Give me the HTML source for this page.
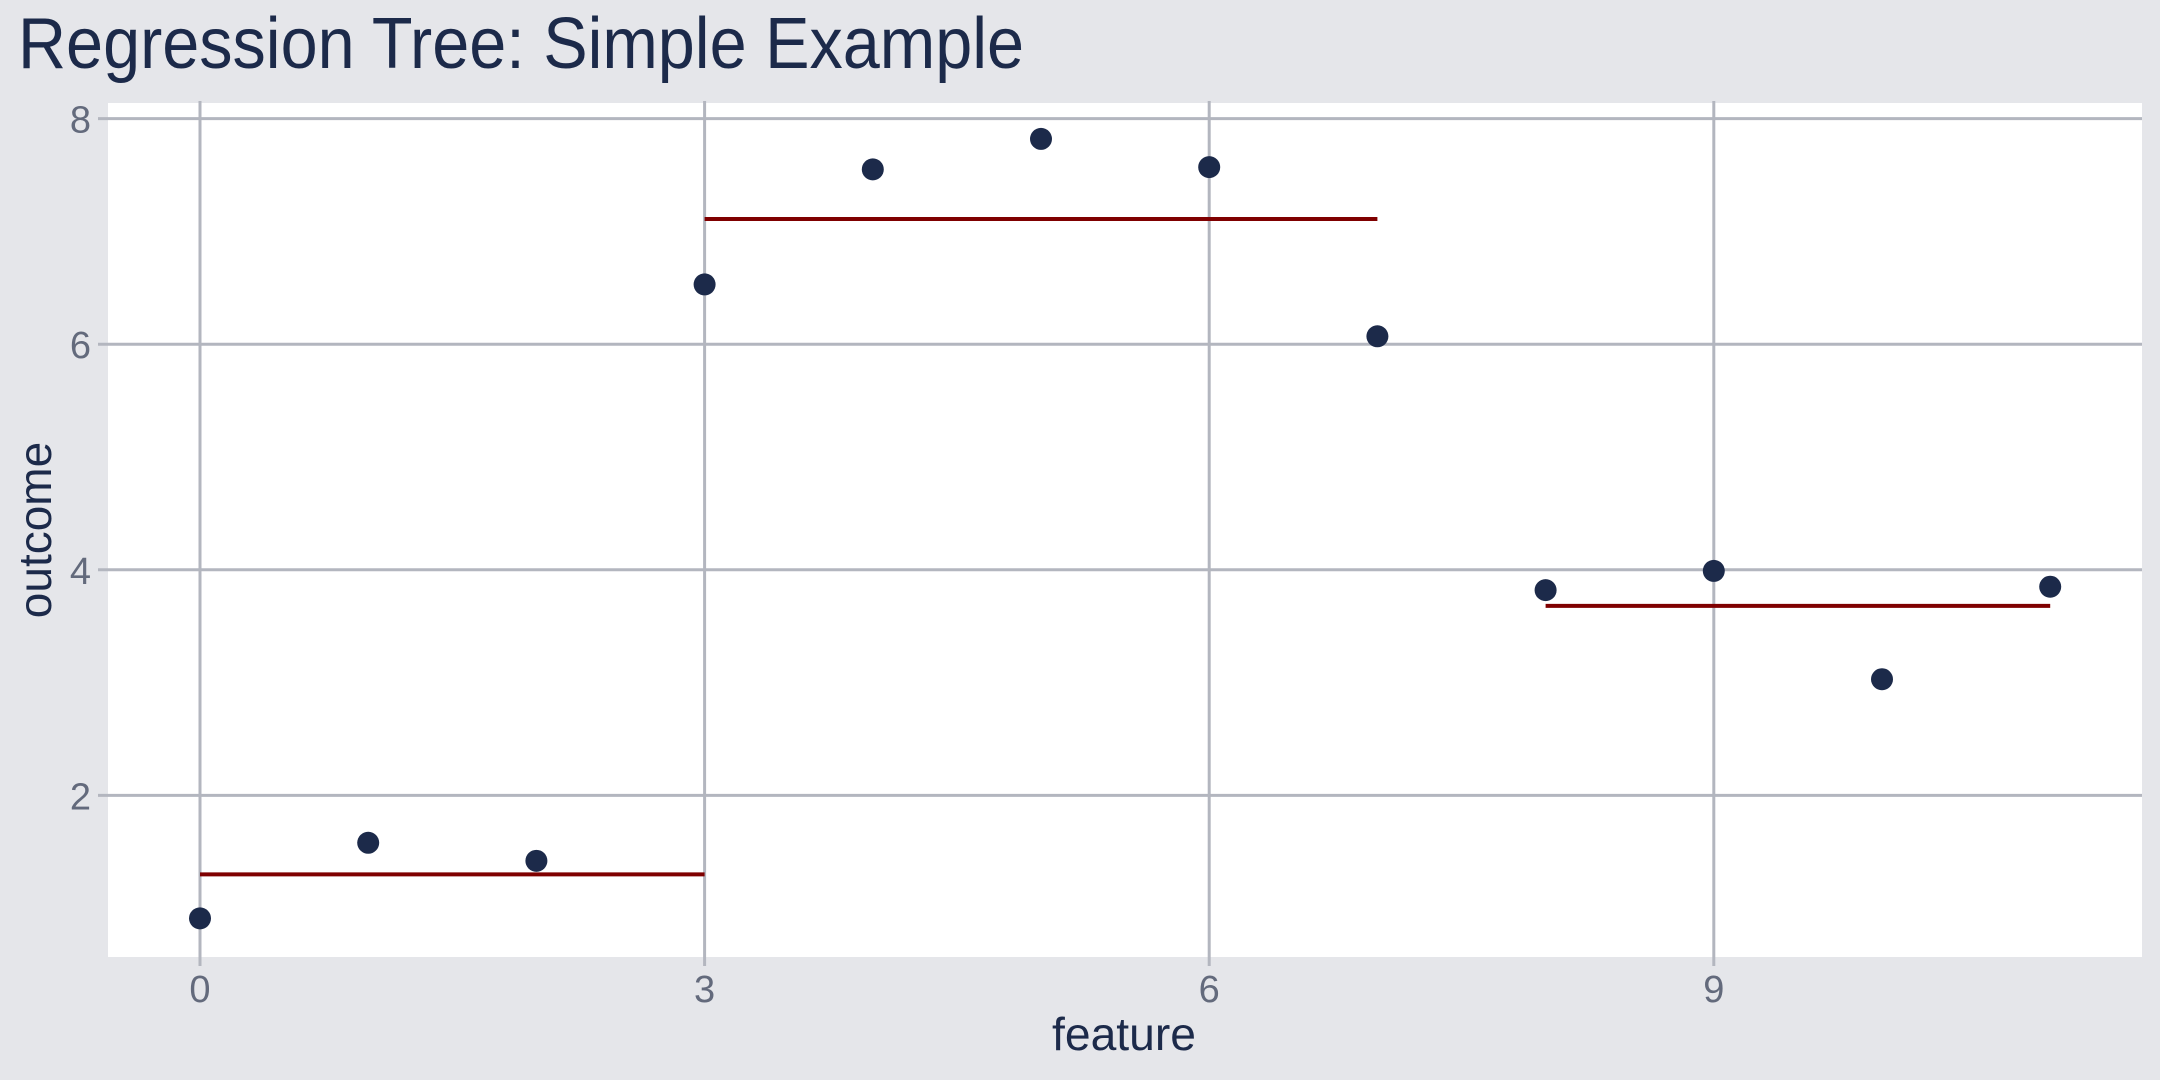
<!DOCTYPE html>
<html><head><meta charset="utf-8"><style>
html,body{margin:0;padding:0;background:#e5e6ea;}
svg{display:block;font-family:"Liberation Sans",sans-serif;}
</style></head><body>
<svg id="chart" width="2160" height="1080" viewBox="0 0 2160 1080">
<rect x="0" y="0" width="2160" height="1080" fill="#e5e6ea"/>
<text x="18" y="68" font-size="72" fill="#1c2a4a" textLength="1006" lengthAdjust="spacingAndGlyphs">Regression Tree: Simple Example</text>
<rect x="108" y="103" width="2034" height="854" fill="#ffffff"/>
<g id="grid"></g>
<g id="segs"></g>
<g id="pts"></g>
<g id="ticks"></g>
<text x="1124" y="1050" font-size="46" fill="#1c2a4a" text-anchor="middle" textLength="144" lengthAdjust="spacingAndGlyphs">feature</text>
<text x="0" y="0" font-size="46" fill="#1c2a4a" text-anchor="middle" transform="translate(51,530) rotate(-90)">outcome</text>
</svg>
<script>
const featureValues = [0,1,2,3,4,5,6,7,8,9,10,11];
const outcomeValues = [0.91,1.58,1.42,6.53,7.55,7.82,7.57,6.07,3.82,3.99,3.03,3.85];
const segStarts = [0,3,8];
const segEnds = [3,7,11];
const segValues = [1.30,7.11,3.68];
const xTicks = [0,3,6,9];
const yTicks = [2,4,6,8];

const NS="http://www.w3.org/2000/svg";
const xs = v => 200 + 168.2*v;
const ys = v => 1021 - 112.8*v;
function mk(tag, attrs, parent){const e=document.createElementNS(NS,tag);for(const k in attrs)e.setAttribute(k,attrs[k]);parent.appendChild(e);return e;}
const grid=document.getElementById('grid'), segs=document.getElementById('segs'), pts=document.getElementById('pts'), ticks=document.getElementById('ticks');
yTicks.forEach(t=>{
  const l=mk('line',{x1:98,x2:2142,y1:ys(t),y2:ys(t),stroke:'#b3b6bf','stroke-width':3},grid);
  
  
  const tx=mk('text',{x:91,y:ys(t)+14,'font-size':38,fill:'#636a7c','text-anchor':'end'},ticks);
  tx.textContent=t;
  
  
});
xTicks.forEach(t=>{
  const l=mk('line',{x1:xs(t),x2:xs(t),y1:101,y2:966,stroke:'#b3b6bf','stroke-width':3},grid);
  
  
  const tx=mk('text',{x:xs(t),y:1002,'font-size':38,fill:'#636a7c','text-anchor':'middle'},ticks);
  tx.textContent=t;
  
  
});
segValues.forEach((v,i)=>{
  const l=mk('line',{x1:xs(segStarts[i]),x2:xs(segEnds[i]),y1:ys(v),y2:ys(v),stroke:'#7f0000','stroke-width':4},segs);
  
  
});
featureValues.forEach((f,i)=>{
  const c=mk('circle',{cx:xs(f),cy:ys(outcomeValues[i]),r:11,fill:'#1c2a4a'},pts);
  
  
});
</script>
</body></html>
